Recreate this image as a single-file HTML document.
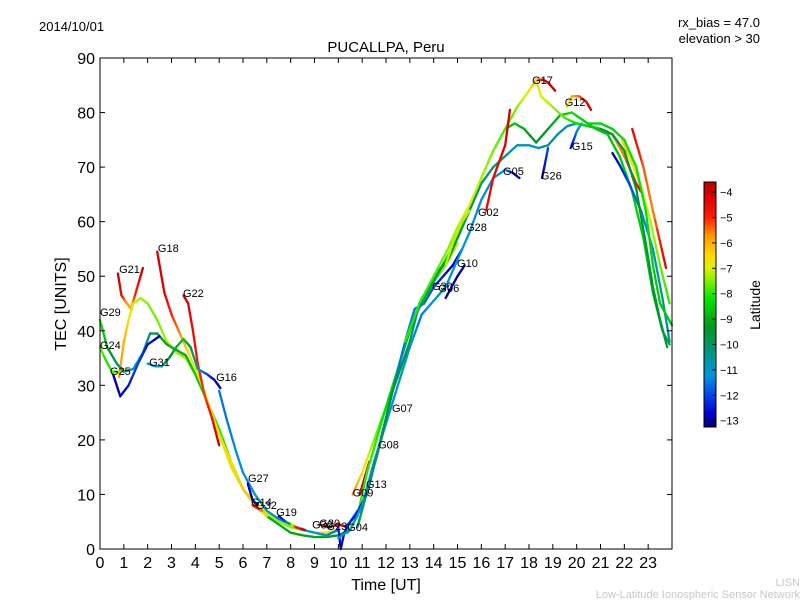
<!DOCTYPE html>
<html><head><meta charset="utf-8"><style>
body{margin:0;background:#fff}
svg{display:block;font-family:"Liberation Sans","DejaVu Sans",sans-serif}
</style></head><body>
<svg id="chart" width="800" height="600" viewBox="0 0 800 600" xmlns="http://www.w3.org/2000/svg">
<defs><linearGradient id="jetg" x1="0" y1="1" x2="0" y2="0"></linearGradient></defs>
<text x="39" y="31" font-size="13">2014/10/01</text>
<text x="760" y="27" font-size="13" text-anchor="end">rx_bias = 47.0</text>
<text x="760" y="43" font-size="13" text-anchor="end">elevation &gt; 30</text>
<text x="386" y="52" font-size="15" text-anchor="middle">PUCALLPA, Peru</text>
<text x="386" y="590" font-size="16" text-anchor="middle">Time [UT]</text>
<text x="66" y="304" font-size="16" text-anchor="middle" transform="rotate(-90 66 304)">TEC [UNITS]</text>
<g id="marks"></g>
<g id="labels"></g>
<g id="axes"></g>
<rect x="100" y="58" width="572" height="491" fill="none" stroke="#000" stroke-width="1"/>
<rect x="704" y="182" width="12" height="245" fill="url(#jetg)" stroke="#000" stroke-width="1"/>
<g id="cbticks"></g>
<text x="760" y="305" font-size="14" text-anchor="middle" transform="rotate(-90 760 305)">Latitude</text>
<text x="800" y="586" font-size="11" fill="#c8c8c8" text-anchor="end">LISN</text>
<text x="800" y="598" font-size="11" fill="#c8c8c8" text-anchor="end">Low-Latitude Ionospheric Sensor Network</text>
</svg>
<script>
const xTicks=[0,1,2,3,4,5,6,7,8,9,10,11,12,13,14,15,16,17,18,19,20,21,22,23];
const yTicks=[0,10,20,30,40,50,60,70,80,90];
const cbTicks=[-4,-5,-6,-7,-8,-9,-10,-11,-12,-13];
const trackNames=["G21","G24","Y1","G29","G25","G18","G22","G31","G16","G27","G14","G19","G20","G04","G09","G13","G08","G07","G06","G05","G28","G26","T1","G15","G17","Y2","G12","G10","R1","Y3","F1","F2","F3","F4","F5","F6"];
const trackTimes=[
[0.75,0.9,1.05,1.3,1.5,1.8],
[0,0.2,0.5,0.8,1.0],
[0.8,1.0,1.2,1.4,1.7,2.0,2.4,2.8,3.2,3.6,4,4.5,5,5.5,6,6.5,7,7.5,8,8.5,9,9.5,10],
[0,0.3,0.7,1.0,1.4,1.8,2.1,2.4,2.8,3.2,3.6,4.0,4.5,5,5.5,6,6.5,7,7.5,8,8.5,9,9.5,10,10.5],
[0.55,0.7,0.85,1.2,1.6,2.0,2.5],
[2.4,2.7,3.0,3.3,3.6,3.9,4.2,4.6,5.0,5.5,6,6.5,7],
[3.5,3.7,3.9,4.1,4.4,4.7,5.0],
[2.0,2.3,2.6,2.9,3.2,3.5,3.8,4.1,4.5,4.8,5.05],
[5.0,5.3,5.7,6.0,6.5,7,7.5,8,8.5,9,9.5,10],
[6.2,6.4,6.6],
[6.4,6.6,6.8],
[7.5,7.8,8.2,8.6],
[9.2,9.6,10,10.4],
[10,10.1,10.25,10.5,10.8],
[10.6,11,11.5,12,12.5,13,13.5,14,14.5,15],
[10.9,11.1,11.3],
[10.4,10.8,11.2,11.6,12,12.5,13,13.5,14,14.5,15,15.5,16,16.5,17,17.4,17.8,18.3,18.8,19.3,19.8,20.3,20.8,21.3,21.8,22.3,22.8,23.2,23.6,23.9],
[10.3,10.7,11.2,11.6,12,12.4,12.8,13.2,13.6,14,14.4,14.8,15.2],
[10,10.5,11,11.5,12,12.5,13,13.5,14,14.5,15,15.5,16,16.5,17,17.3],
[17.3,17.6],
[10.8,11.3,11.8,12.2,12.6,13,13.4,13.8,14.2,14.6,15,15.5,16,16.5,17,17.5,18,18.4],
[18.55,18.8],
[18.4,18.8,19.2,19.6,20,20.5,21,21.3],
[19.75,20.0,20.2],
[12.8,13.4,14,14.6,15,15.5,16,16.5,17,17.5,18,18.3,18.6,18.8,19.1],
[18.3,18.5,19,19.5,20,20.5,21],
[19.6,19.8,20.1,20.4,20.6],
[14.5,15,15.3],
[16.2,16.5,17,17.2],
[14.5,14.8,15.2,15.5],
[22.33,22.8,23.2,23.75],
[21.9,22.3,22.7,23.1,23.5,23.9],
[21,21.5,22,22.5,22.7],
[21.5,21.8,22.2,22.7,23.2,23.6,23.9],
[20.5,21,21.5,22,22.5,22.9,23.2,23.5,24],
[21,21.5,22,22.5,22.9,23.2,23.5,23.8]];
const trackTec=[
[50.5,46.5,45.5,44,47,51.5],
[37,35,32.5,32.5,33],
[31.5,38,42,45,46,45,42,38,36,35,32,27,21,15,11,8.5,6.5,5,4,3.5,3,3,3.5],
[42,37,34,32.5,33,36,39.5,39.5,37.5,36.5,35.5,32,27,22,16,11,8,6,4.5,3,2.5,2.2,2.2,2.5,3.5],
[32,30,28,30,34,37.5,39],
[54.5,47,43,40,37,34,31,26,21,16,11,8,6],
[46.5,45,40,34,28,24,19],
[34,33.5,33.5,35,37,38.5,37,33,32,31,29.5],
[29,24,18,14,10,7,5.5,4.5,3.5,3,2.5,3.5],
[12,9,8],
[8,7.5,7],
[6,5,4,3.5],
[4.5,4,4.5,4],
[4,0,3,5,7],
[10,14,20,26,33,40,46,49,52,56],
[10,13,16],
[3,6,14,20,26,33,41,45,49,53,57,62,68,73,77,78,77,74.5,77,79.5,80,78.5,77,76,72,66,57,47,40,37.5],
[4,6,10,17,24,31,38,44,45,48,50,52,55],
[2,3.5,8,16,23,30,37,43,45.5,48,53,58,64,68,69.5,69],
[69,68],
[4,12,20,28,33,38,45,48,51,53,57,62,67,70,72,74,74,73.5],
[68,73.5],
[73.5,74,76,77.5,78,77.5,77,76.5],
[73.5,76.5,78],
[38,45,50,55,59,63,68,73,77,81,84,86,86,85.5,84],
[86,83,81,79,78,77.5,77],
[81,83,83,82,80.5],
[46,50,52],
[62,68,74,80.5],
[52,56,60,62],
[77,70,62,51.5],
[75,71,66.5,60,52,45],
[77,76,72,67,65.5],
[72.6,70.4,67,62,55,46,38],
[78,78,77,75,70,62,52,45,41],
[77,76,73,66,56,48,42,37]];
const trackLat=[
[-3.8,-4.5,-5.5,-6,-5,-3.9],
[-7.5,-8,-8,-7.5,-7],
[-5.8,-6,-6.5,-7,-7.3,-7.5,-7.6,-7.3,-7.2,-7.4,-7.3,-7,-6.8,-7,-7,-6.8,-7,-7.3,-7.5,-7.5,-7,-6.5,-7],
[-8,-9,-10,-10.5,-11,-10.8,-10,-9.5,-9,-9,-9,-8.5,-8.3,-8,-8.2,-8.5,-8.8,-9,-9,-9,-9.2,-9,-9.2,-9.3,-9],
[-12.8,-13,-13,-12.5,-12,-12.6,-13],
[-4,-4.3,-5,-5.5,-6.2,-6.8,-6.8,-6.7,-6.5,-6.5,-6.3,-6.3,-6.5],
[-4,-4.2,-4.5,-4.8,-5.2,-4.6,-4],
[-11,-11.2,-10.5,-9.5,-9,-8.5,-9.5,-11,-12,-12.8,-13],
[-11.5,-11.5,-11.3,-11.3,-11.2,-11,-11,-11,-11,-11,-11.3,-11.5],
[-13,-12.8,-12.5],
[-5,-4.5,-5.5],
[-13,-12,-5,-4],
[-4.5,-4,-4.5,-4],
[-12,-13,-12.5,-12,-11],
[-5.5,-6.5,-7.5,-8,-8.5,-9,-8.5,-8,-7.5,-7.3],
[-4,-4,-4.3],
[-8,-8,-8,-8,-8.3,-8.5,-9,-9,-9,-8.5,-8.2,-8.5,-8.5,-8.8,-9,-8.5,-9,-9.5,-9.2,-8.8,-8.3,-8.5,-8.5,-8.7,-8.7,-8.5,-8.5,-9,-9,-9],
[-12,-12.5,-12.5,-12,-12,-11.5,-11.5,-11.5,-11.5,-12,-12.5,-12.8,-13],
[-11,-11,-11.2,-11.3,-11,-11,-11.2,-11.5,-11,-11,-11,-11.2,-11.3,-11,-11.2,-12],
[-12.5,-13],
[-10,-10,-9.8,-9.5,-9.5,-10,-10.3,-10,-9.8,-9.5,-9.5,-9.8,-10,-10.3,-10.5,-10.8,-11,-11.2],
[-13,-12],
[-10.5,-10.5,-10.5,-10.6,-10.6,-10.5,-10.5,-10.5],
[-13,-11.5,-11],
[-8,-8,-7.8,-7.5,-7.2,-7,-7.2,-7.5,-7.8,-7.5,-6.8,-5.8,-4.5,-4,-3.8],
[-6.5,-7,-7.3,-7.8,-8.2,-8.5,-8.7],
[-7,-6,-5.5,-4.5,-4],
[-13,-13,-12.8],
[-4.5,-4.5,-4.2,-4],
[-7.2,-7.2,-7.2,-7.2],
[-4.3,-5.3,-5.6,-4.3],
[-6.2,-6.5,-6.8,-7.2,-7.6,-8],
[-6.5,-6,-5.5,-4.8,-4.3],
[-13,-12.5,-12,-11.5,-11,-10.5,-10.5],
[-8.5,-8.5,-8.5,-8.3,-8.2,-8.3,-8.5,-8.6,-8.6],
[-9.5,-9.5,-9.5,-9.5,-9.5,-9.5,-9.5,-9.8]];
const labelNames=["G21","G18","G22","G29","G24","G25","G31","G16","G27","G14","G32","G19","G30","G20","G23","G04","G09","G13","G08","G07","G30","G06","G10","G28","G02","G05","G26","G15","G12","G17"];
const labelTimes=[0.8,2.43,3.48,0,0,0.42,2.06,4.87,6.21,6.34,6.55,7.39,8.9,9.2,9.5,10.37,10.6,11.16,11.67,12.25,13.93,14.2,14.98,15.36,15.86,16.91,18.5,19.8,19.5,18.13];
const labelTec=[51.3,55.2,46.9,43.4,37.4,32.6,34.3,31.5,13,8.6,8.1,6.8,4.5,4.8,4.2,4,10.4,11.9,19.2,25.8,48.2,47.8,52.4,59,61.8,69.3,68.5,73.9,81.9,86];

const X0=100,X1=672,Y0=549,Y1=58;
const xs=t=>X0+(t/24)*(X1-X0);
const ys=v=>Y0-(v/90)*(Y0-Y1);
const LMAX=-3.6,LMIN=-13.25;
const cs=l=>427-((l-LMIN)/(LMAX-LMIN))*245;
const CM=[[-13.25,0,0,130],[-12.7,0,0,210],[-12,0,70,230],[-11.2,0,150,220],[-10.3,0,150,130],[-9.3,0,150,30],[-8.2,0,230,0],[-7.5,130,240,0],[-7,220,240,0],[-6.5,255,220,0],[-5.7,255,150,0],[-5,255,30,0],[-4.2,220,0,0],[-3.6,180,0,0]];
function jet(l){l=Math.max(LMIN,Math.min(LMAX,l));
 for(let i=0;i<CM.length-1;i++){const a=CM[i],b=CM[i+1];if(l>=a[0]&&l<=b[0]){const f=(l-a[0])/(b[0]-a[0]);
  return `rgb(${Math.round(a[1]+(b[1]-a[1])*f)},${Math.round(a[2]+(b[2]-a[2])*f)},${Math.round(a[3]+(b[3]-a[3])*f)})`;}}
 return 'rgb(180,0,0)';}
const NS="http://www.w3.org/2000/svg";
const mk=(tag,attrs,parent)=>{const e=document.createElementNS(NS,tag);for(const k in attrs)e.setAttribute(k,attrs[k]);parent.appendChild(e);return e;};
const grad=document.getElementById('jetg');
CM.forEach(s=>{mk('stop',{offset:((s[0]-LMIN)/(LMAX-LMIN)).toFixed(3),'stop-color':`rgb(${s[1]},${s[2]},${s[3]})`},grad);});
const marks=document.getElementById('marks');
trackNames.forEach((nm,i)=>{
 const g=mk('g',{},marks);
 
 
 const T=trackTimes[i],V=trackTec[i],L=trackLat[i];
 for(let j=0;j<T.length-1;j++){
  const n=6;
  for(let k=0;k<n;k++){
   const a=k/n,b=(k+1)/n;
   const la=L[j]+(L[j+1]-L[j])*(a+b)/2;
   const s=mk('line',{x1:xs(T[j]+(T[j+1]-T[j])*a),y1:ys(V[j]+(V[j+1]-V[j])*a),x2:xs(T[j]+(T[j+1]-T[j])*b),y2:ys(V[j]+(V[j+1]-V[j])*b),stroke:jet(la),'stroke-width':2.3,'stroke-linecap':'round'},g);
   
   
  }
 }
});
const labels=document.getElementById('labels');
labelNames.forEach((nm,i)=>{
 const t=mk('text',{x:xs(labelTimes[i]),y:ys(labelTec[i])+4,'font-size':11},labels);
 t.textContent=nm;
 
 
});
const axes=document.getElementById('axes');
xTicks.forEach(v=>{
 const x=xs(v);
 const a=mk('line',{x1:x,y1:Y0,x2:x,y2:Y0-5,stroke:'#000'},axes);
 
 
 const b=mk('line',{x1:x,y1:Y1,x2:x,y2:Y1+5,stroke:'#000'},axes);
 
 
 const t=mk('text',{x:x,y:568,'font-size':16,'text-anchor':'middle'},axes);
 t.textContent=v;
 
 
});
yTicks.forEach(v=>{
 const y=ys(v);
 const a=mk('line',{x1:X0,y1:y,x2:X0+5,y2:y,stroke:'#000'},axes);
 
 
 const b=mk('line',{x1:X1,y1:y,x2:X1-5,y2:y,stroke:'#000'},axes);
 
 
 const t=mk('text',{x:95,y:y+6,'font-size':16,'text-anchor':'end'},axes);
 t.textContent=v;
 
 
});
const cb=document.getElementById('cbticks');
cbTicks.forEach(v=>{
 const y=cs(v);
 const a=mk('line',{x1:712,y1:y,x2:716,y2:y,stroke:'#000'},cb);
 
 
 const t=mk('text',{x:720,y:y+4,'font-size':11},cb);
 t.textContent='\u2212'+Math.abs(v);
 
 
});
</script>
</body></html>
